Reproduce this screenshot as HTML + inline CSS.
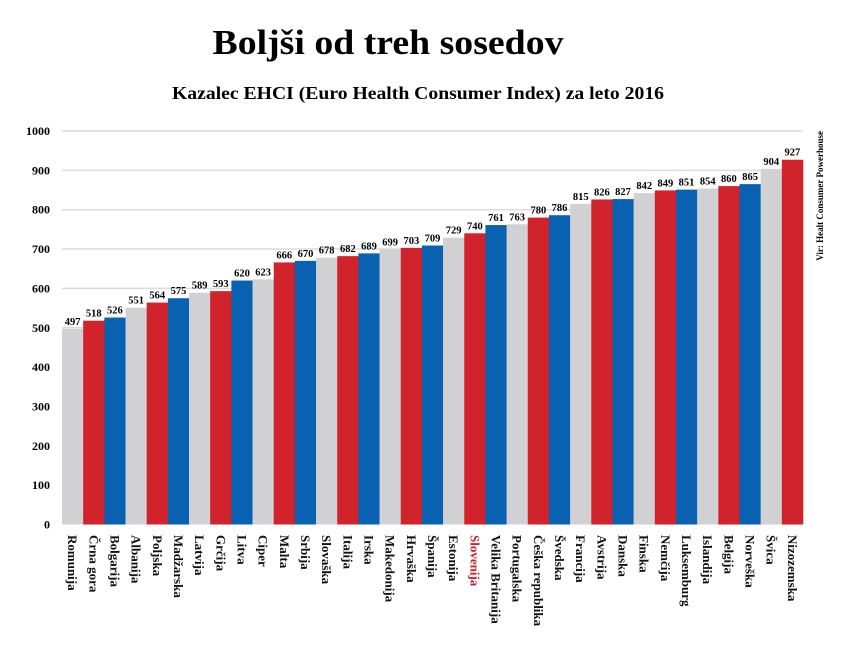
<!DOCTYPE html>
<html><head><meta charset="utf-8"><style>
body{margin:0;background:#fff}
svg{display:block;font-family:"Liberation Serif",serif}
</style></head><body>
<svg width="862" height="649" viewBox="0 0 862 649" xmlns="http://www.w3.org/2000/svg">
<text x="388" y="54" text-anchor="middle" font-size="35" font-weight="bold" textLength="351" lengthAdjust="spacingAndGlyphs">Boljši od treh sosedov</text>
<text x="418" y="99" text-anchor="middle" font-size="18" font-weight="bold" textLength="492" lengthAdjust="spacingAndGlyphs">Kazalec EHCI (Euro Health Consumer Index) za leto 2016</text>
<g id="grid" stroke="#dcdcdc" stroke-width="1.5"></g>
<g id="ylab" font-size="12" font-weight="bold" text-anchor="end"></g>
<g id="bars"></g>
<text transform="translate(823,131) rotate(-90)" text-anchor="end" font-size="9" font-weight="bold">Vir: Healt Consumer Powerhouse</text>
</svg>
<script>
const ns="http://www.w3.org/2000/svg";
const d=[["Romunija",497],["Črna gora",518],["Bolgarija",526],["Albanija",551],["Poljska",564],["Madžarska",575],["Latvija",589],["Grčija",593],["Litva",620],["Ciper",623],["Malta",666],["Srbija",670],["Slovaška",678],["Italija",682],["Irska",689],["Makedonija",699],["Hrvaška",703],["Španija",709],["Estonija",729],["Slovenija",740],["Velika Britanija",761],["Portugalska",763],["Češka republika",780],["Švedska",786],["Francija",815],["Avstrija",826],["Danska",827],["Finska",842],["Nemčija",849],["Luksemburg",851],["Islandija",854],["Belgija",860],["Norveška",865],["Švica",904],["Nizozemska",927]];
const cols=["#d1d1d3","#d0232b","#0862b1"];
const y0=524.5,k=0.3935,x0=62,w=(803-62)/35;
const g=document.getElementById("grid"),yl=document.getElementById("ylab"),b=document.getElementById("bars");
function el(t,a,p,txt){const e=document.createElementNS(ns,t);for(const q in a)e.setAttribute(q,a[q]);if(txt!=null)e.textContent=txt;p.appendChild(e);return e;}
for(let v=0;v<=1000;v+=100){const y=y0-v*k;if(v>0)el("line",{x1:62,x2:803,y1:y,y2:y},g);el("text",{x:50,y:y+4},yl,v);}
d.forEach(([n,v],i)=>{const x=x0+i*w,y=y0-v*k;
el("rect",{x:x,y:y,width:w+0.3,height:y0-y,fill:cols[i%3]},b);
el("text",{x:x+w/2,y:y-4,"text-anchor":"middle","font-size":"10.5","font-weight":"bold"},b,v);
el("text",{transform:`translate(${x+w/2-4.5},535) rotate(90)`,"font-size":"13","font-weight":"bold",fill:n=="Slovenija"?"#d0232b":"#111"},b,n);
});
</script>
</body></html>
